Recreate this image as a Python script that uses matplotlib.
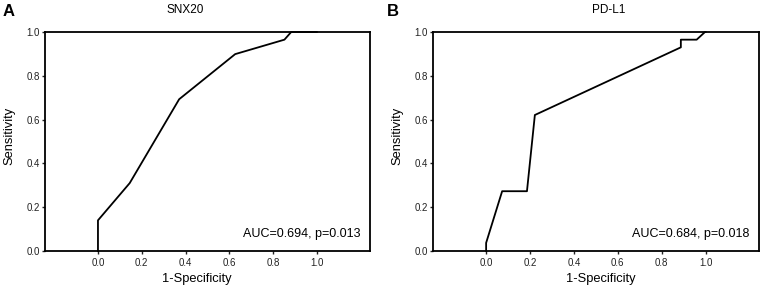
import matplotlib
matplotlib.use("Agg")
import matplotlib.pyplot as plt

# ------ data ------
snx20_fpr = [0.0, 0.0, 0.145, 0.371, 0.627, 0.852, 0.883, 1.0]
snx20_tpr = [0.0, 0.14, 0.31, 0.693, 0.899, 0.965, 1.0, 1.0]
snx20_label = "AUC=0.694, p=0.013"

pdl1_fpr = [0.0, 0.0, 0.073, 0.186, 0.222, 0.887, 0.887, 0.959, 0.997, 1.0]
pdl1_tpr = [0.0, 0.037, 0.273, 0.273, 0.621, 0.93, 0.965, 0.965, 1.0, 1.0]
pdl1_label = "AUC=0.684, p=0.018"

titles = ["SNX20", "PD-L1"]
letters = ["A", "B"]
ticks = [0.0, 0.2, 0.4, 0.6, 0.8, 1.0]
tick_labels = ["0.0", "0.2", "0.4", "0.6", "0.8", "1.0"]

# ------ plot ------
plt.rcParams["font.family"] = ["Liberation Sans", "DejaVu Sans"]

fig = plt.figure(figsize=(7.64, 2.91), dpi=100)
W, H = 764, 291
boxes = [(45, 32, 370, 251), (433, 32, 759, 251)]
panels = [(snx20_fpr, snx20_tpr, snx20_label), (pdl1_fpr, pdl1_tpr, pdl1_label)]
title_x = [0.43, 0.54]
xlab_x = [0.468, 0.515]
letter_x = [3, 387]

for i, ((x0, y0, x1, y1), (fpr, tpr, lab)) in enumerate(zip(boxes, panels)):
    ax = fig.add_axes([x0 / W, 1 - y1 / H, (x1 - x0) / W, (y1 - y0) / H])
    ax.plot(fpr, tpr, color="black", lw=1.3, clip_on=False)
    ax.set_xlim(-0.242, 1.243)
    ax.set_ylim(0, 1)
    ax.set_xticks(ticks)
    ax.set_xticklabels(tick_labels)
    ax.set_yticks(ticks)
    ax.set_yticklabels(tick_labels)
    ax.tick_params(labelsize=7, length=2.5, width=1, pad=2.5, colors="#222222")
    ax.tick_params(axis="y", pad=1)
    for s in ax.spines.values():
        s.set_linewidth(1.3)
    ax.set_xlabel("1-Specificity", fontsize=9.3, labelpad=3)
    ax.xaxis.set_label_coords(xlab_x[i], -0.1, transform=ax.transAxes)
    ax.xaxis.label.set_va("top")
    ax.set_ylabel("Sensitivity", fontsize=9.3, labelpad=3)
    ax.yaxis.set_label_coords(-0.09, 0.525)
    ax.text(title_x[i], 1 + 22 / 219, titles[i], transform=ax.transAxes,
            ha="center", va="center", fontsize=8.5)
    ax.text(0.97, 0.05, lab, transform=ax.transAxes, ha="right", va="bottom", fontsize=9)
    fig.text(letter_x[i] / W, 1 - 12 / H, letters[i], fontsize=12, fontweight="bold",
             ha="left", va="center")

fig.savefig("out.png", dpi=100)
